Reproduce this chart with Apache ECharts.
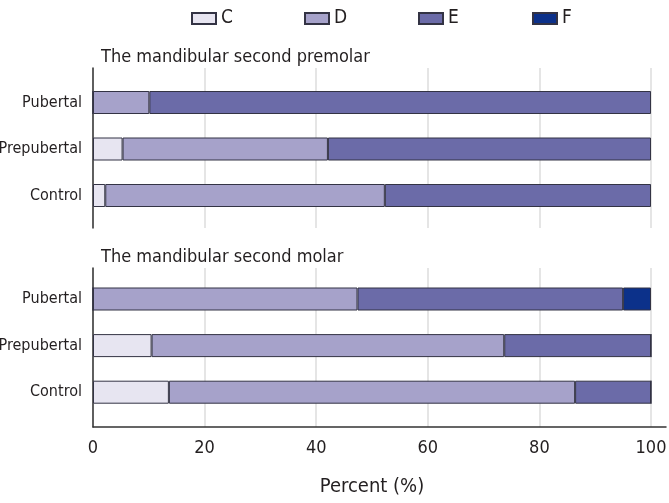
<!DOCTYPE html>
<html>
<head>
<meta charset="utf-8">
<script src="https://cdn.jsdelivr.net/npm/echarts@6/dist/echarts.min.js"></script>
<style>
html,body{margin:0;padding:0;background:#fff;}
#chart{width:669px;height:503px;}
</style>
</head>
<body>
<div id="chart"></div>
<script>
// ---- data ----
var groups = ['Control', 'Prepubertal', 'Pubertal'];
var stages = ['C', 'D', 'E', 'F'];
var xTicks = [0, 20, 40, 60, 80, 100];
var panelTitles = ['The mandibular second premolar', 'The mandibular second molar'];
// premolar (top panel), order: Control, Prepubertal, Pubertal
var premolarC = [2.2, 5.3, 0];
var premolarD = [50.1, 36.8, 10.1];
var premolarE = [47.7, 57.9, 89.9];
// molar (bottom panel)
var molarC = [13.6, 10.5, 0];
var molarD = [72.8, 63.2, 47.4];
var molarE = [13.6, 26.3, 47.6];
var molarF = [0, 0, 5.0];

var colors = {C: '#e7e5f1', D: '#a6a2ca', E: '#6b6ba8', F: '#0c318a'};
var FONT = '"DejaVu Sans Condensed", "Liberation Sans Narrow", sans-serif';
var TXT = '#231f20';

var chart = echarts.init(document.getElementById('chart'), null, {renderer: 'canvas'});

function barSeries(name, data, idx, stack) {
  return {
    type: 'bar', name: name, data: data, stack: stack,
    xAxisIndex: idx, yAxisIndex: idx, barWidth: 23,
    itemStyle: {color: colors[name], borderColor: '#333344', borderWidth: 1},
    emphasis: {disabled: true}, animation: false
  };
}

var legendLefts = [186, 299, 413, 527];
var legends = stages.map(function (s, i) {
  return {
    data: [s], left: legendLefts[i], top: 4, itemWidth: 24, itemHeight: 11, itemGap: 8,
    icon: 'rect', selectedMode: false,
    textStyle: {fontFamily: FONT, fontSize: 19, color: TXT}
  };
});

var L = 93, W = 558;
function g(top, height, width) {
  return {left: L, width: width || W, top: top, height: height, containLabel: false, outerBoundsMode: 'none'};
}
var option = {
  animation: false,
  title: [
    {text: panelTitles[0], left: 96, top: 43, textStyle: {fontFamily: FONT, fontSize: 18, fontWeight: 'normal', color: TXT}},
    {text: panelTitles[1], left: 96, top: 243, textStyle: {fontFamily: FONT, fontSize: 18, fontWeight: 'normal', color: TXT}}
  ],
  legend: legends,
  grid: [
    g(68, 160),
    g(79.25, 139.5),
    g(268, 159),
    g(275.7, 139.8),
    g(268, 159, 573)
  ],
  xAxis: [
    {gridIndex: 0, type: 'value', min: xTicks[0], max: xTicks[xTicks.length-1], interval: 20,
     axisLine: {show: false}, axisTick: {show: false}, axisLabel: {show: false},
     splitLine: {show: true, lineStyle: {color: '#dcdcdc', width: 1.5}}},
    {gridIndex: 1, type: 'value', min: 0, max: 100, show: false},
    {gridIndex: 2, type: 'value', min: xTicks[0], max: xTicks[xTicks.length-1], interval: 20,
     axisLine: {show: false}, axisTick: {show: false},
     axisLabel: {show: true, fontFamily: FONT, fontSize: 18, color: TXT, margin: 12},
     splitLine: {show: true, lineStyle: {color: '#dcdcdc', width: 1.5}},
     name: 'Percent (%)', nameLocation: 'middle', nameGap: 50,
     nameTextStyle: {fontFamily: FONT, fontSize: 20, color: TXT}},
    {gridIndex: 3, type: 'value', min: 0, max: 100, show: false},
    {gridIndex: 4, type: 'value', min: 0, max: 102.7, axisLine: {show: true, lineStyle: {color: '#333', width: 1.5}},
     axisTick: {show: false}, axisLabel: {show: false}, splitLine: {show: false}}
  ],
  yAxis: [
    {gridIndex: 0, type: 'value', min: 0, max: 1, axisLine: {show: true, lineStyle: {color: '#333', width: 1.5}},
     axisTick: {show: false}, axisLabel: {show: false}, splitLine: {show: false}},
    {gridIndex: 1, type: 'category', data: groups, axisLine: {show: false}, axisTick: {show: false},
     axisLabel: {fontFamily: FONT, fontSize: 16, color: TXT, margin: 11}},
    {gridIndex: 2, type: 'value', min: 0, max: 1, axisLine: {show: true, lineStyle: {color: '#333', width: 1.5}},
     axisTick: {show: false}, axisLabel: {show: false}, splitLine: {show: false}},
    {gridIndex: 3, type: 'category', data: groups, axisLine: {show: false}, axisTick: {show: false},
     axisLabel: {fontFamily: FONT, fontSize: 16, color: TXT, margin: 11}},
    {gridIndex: 4, type: 'value', show: false}
  ],
  series: [
    barSeries('C', premolarC, 1, 'top'),
    barSeries('D', premolarD, 1, 'top'),
    barSeries('E', premolarE, 1, 'top'),
    barSeries('C', molarC, 3, 'bot'),
    barSeries('D', molarD, 3, 'bot'),
    barSeries('E', molarE, 3, 'bot'),
    barSeries('F', molarF, 3, 'bot')
  ]
};
chart.setOption(option);
</script>
</body>
</html>
